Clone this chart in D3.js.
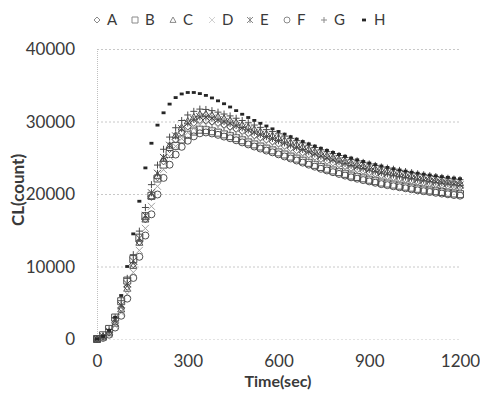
<!DOCTYPE html>
<html>
<head>
<meta charset="utf-8">
<script src="https://cdn.jsdelivr.net/npm/d3@7/dist/d3.min.js"></script>
<style>
  body { margin: 0; background: #fff; }
  text { font-family: Lato, "Open Sans", sans-serif; fill: #3a3a3a; }
</style>
</head>
<body>
<div id="chart"></div>
<script>
// Sample times (sec), one reading every 20 s
const times = [0, 20, 40, 60, 80, 100, 120, 140, 160, 180, 200, 220, 240, 260, 280, 300, 320, 340, 360, 380,
  400, 420, 440, 460, 480, 500, 520, 540, 560, 580, 600, 620, 640, 660, 680, 700, 720, 740, 760, 780,
  800, 820, 840, 860, 880, 900, 920, 940, 960, 980, 1000, 1020, 1040, 1060, 1080, 1100, 1120, 1140, 1160, 1180, 1200];

// CL counts
const serA = [0, 300, 900, 2300, 4300, 7200, 10300, 13400, 16500, 19600, 22300, 24500, 26200, 27500, 28500, 29300, 29800, 30200, 30150, 30000,
  29800, 29550, 29300, 29000, 28700, 28400, 28100, 27800, 27500, 27250, 26950, 26650, 26350, 26050, 25750, 25450, 25150, 24850, 24600, 24350,
  24100, 23850, 23600, 23400, 23200, 23000, 22800, 22600, 22450, 22300, 22150, 22000, 21850, 21700, 21580, 21460, 21340, 21230, 21120, 21020, 20920];
const serB = [0, 515, 1390, 2960, 5210, 8060, 11020, 13980, 16940, 19750, 22140, 24050, 25520, 26640, 27520, 28170, 28610, 28870, 28800, 28650,
  28460, 28220, 27980, 27700, 27410, 27120, 26840, 26550, 26260, 26020, 25740, 25450, 25160, 24880, 24590, 24300, 24020, 23730, 23490, 23250,
  23020, 22780, 22540, 22350, 22160, 21970, 21770, 21580, 21440, 21300, 21150, 21010, 20870, 20720, 20610, 20490, 20380, 20270, 20170, 20070, 19980];
const serC = [0, 263, 830, 2150, 4120, 6970, 10130, 13320, 16520, 19710, 22550, 24900, 26720, 28120, 29200, 30060, 30620, 31020, 31050, 30900,
  30690, 30440, 30180, 29870, 29560, 29250, 28940, 28630, 28330, 28070, 27760, 27450, 27140, 26830, 26520, 26210, 25900, 25600, 25340, 25080,
  24820, 24570, 24310, 24100, 23900, 23690, 23480, 23280, 23120, 22970, 22810, 22660, 22510, 22350, 22230, 22100, 21980, 21870, 21750, 21650, 21550];
const serD = [0, 205, 705, 1840, 3630, 6200, 9180, 12220, 15260, 18300, 21060, 23360, 25180, 26570, 27640, 28480, 29060, 29480, 29550, 29400,
  29200, 28960, 28710, 28420, 28130, 27830, 27540, 27240, 26950, 26710, 26410, 26120, 25820, 25530, 25240, 24940, 24650, 24350, 24110, 23860,
  23620, 23370, 23130, 22930, 22740, 22540, 22340, 22150, 22000, 21850, 21710, 21560, 21410, 21270, 21150, 21030, 20910, 20810, 20700, 20600, 20500];
const serE = [0, 365, 1060, 2540, 4660, 7620, 10770, 13920, 17060, 20170, 22860, 25040, 26720, 28010, 29010, 29790, 30290, 30650, 30600, 30450,
  30250, 29990, 29740, 29440, 29130, 28830, 28520, 28220, 27910, 27660, 27350, 27050, 26750, 26440, 26140, 25830, 25530, 25220, 24970, 24720,
  24460, 24210, 23950, 23750, 23550, 23350, 23140, 22940, 22790, 22630, 22480, 22330, 22180, 22030, 21900, 21780, 21660, 21550, 21440, 21340, 21230];
const serF = [0, 155, 595, 1580, 3210, 5570, 8420, 11340, 14270, 17200, 19930, 22220, 24040, 25440, 26510, 27350, 27950, 28370, 28490, 28350,
  28160, 27920, 27690, 27410, 27120, 26840, 26550, 26270, 25990, 25750, 25470, 25180, 24900, 24620, 24330, 24050, 23770, 23480, 23250, 23010,
  22770, 22540, 22300, 22110, 21920, 21740, 21550, 21360, 21220, 21070, 20930, 20790, 20650, 20510, 20390, 20280, 20170, 20060, 19960, 19860, 19770];
const serG = [0, 470, 1310, 2940, 5280, 8370, 11630, 14880, 18140, 21290, 23990, 26170, 27850, 29140, 30140, 30900, 31400, 31710, 31660, 31500,
  31290, 31030, 30770, 30450, 30140, 29820, 29510, 29190, 28880, 28610, 28300, 27980, 27670, 27350, 27040, 26720, 26410, 26090, 25830, 25570,
  25310, 25040, 24780, 24570, 24360, 24150, 23940, 23730, 23570, 23420, 23260, 23100, 22940, 22790, 22660, 22530, 22410, 22290, 22180, 22070, 21970];
const serH = [0, 350, 1200, 3000, 6000, 10000, 14500, 19000, 23600, 27000, 29500, 31200, 32400, 33300, 33800, 34000, 34000, 33850, 33600, 33250,
  32850, 32450, 32000, 31500, 31000, 30550, 30150, 29750, 29380, 28990, 28620, 28260, 27910, 27570, 27240, 26920, 26610, 26310, 26020, 25740,
  25470, 25210, 24960, 24720, 24490, 24270, 24060, 23860, 23670, 23490, 23320, 23160, 23010, 22870, 22740, 22620, 22510, 22400, 22300, 22200, 22110];

const seriesNames = ["A", "B", "C", "D", "E", "F", "G", "H"];
const seriesValues = [serA, serB, serC, serD, serE, serF, serG, serH];
const markerTypes = ["diamond", "square", "triangle", "x", "star", "circle", "plus", "dash"];
const markerColors = ["#505050", "#505050", "#505050", "#a0a0a0", "#4a4a4a", "#505050", "#4a4a4a", "#262626"];

const yTicks = [0, 10000, 20000, 30000, 40000];
const xTicks = [0, 300, 600, 900, 1200];

const W = 480, H = 404;
const svg = d3.select("#chart").append("svg")
  .attr("width", W)
  .attr("height", H);

const xScale = d3.scaleLinear().domain([0, 1200]).range([97, 460]);
const yScale = d3.scaleLinear().domain([0, 40000]).range([339, 49]);

// marker shapes centred on 0,0
function markerPath(type, s) {
  switch (type) {
    case "diamond": return `M0,${-s}L${s},0L0,${s}L${-s},0Z`;
    case "square": return `M${-s},${-s}H${s}V${s}H${-s}Z`;
    case "triangle": return `M0,${-s}L${s},${s * 0.8}L${-s},${s * 0.8}Z`;
    case "x": return `M${-s},${-s}L${s},${s}M${-s},${s}L${s},${-s}`;
    case "star": return `M${-s},${-s}L${s},${s}M${-s},${s}L${s},${-s}M0,${-s}V${s}`;
    case "circle": return `M${s},0A${s},${s} 0 1,1 ${-s},0A${s},${s} 0 1,1 ${s},0`;
    case "plus": return `M${-s},0H${s}M0,${-s}V${s}`;
    case "dash": return `M-2,-1.4H2V1.4H-2Z`;
  }
}

// gridlines
svg.append("g")
  .selectAll("line")
  .data(yTicks)
  .join("line")
  .attr("x1", xScale(0))
  .attr("x2", xScale(1200))
  .attr("y1", d => yScale(d) + 0.5)
  .attr("y2", d => yScale(d) + 0.5)
  .attr("stroke", d => d === 0 ? "#e2e2e2" : "#c8c8c8")
  .attr("stroke-width", 1)
  .attr("stroke-dasharray", "2,2");

// left axis line (dotted)
svg.append("line")
  .attr("x1", xScale(0) + 0.5)
  .attr("x2", xScale(0) + 0.5)
  .attr("y1", yScale(40000))
  .attr("y2", yScale(0))
  .attr("stroke", "#c0c0c0")
  .attr("stroke-dasharray", "1,1");

// axes labels via d3 axes (no domain / tick lines)
const yAxis = svg.append("g")
  .attr("transform", `translate(${xScale(0) - 19},0)`)
  .call(d3.axisLeft(yScale).tickValues(yTicks).tickSize(0).tickFormat(d3.format("d")));
yAxis.select(".domain").remove();
yAxis.selectAll("text")
  .style("font-family", "Lato, sans-serif")
  .style("font-size", "17px")
  .attr("fill", "#3a3a3a")
  .attr("dy", "0.35em");

const xAxis = svg.append("g")
  .attr("transform", `translate(0,${yScale(0) + 13})`)
  .call(d3.axisBottom(xScale).tickValues(xTicks).tickSize(0).tickFormat(d3.format("d")));
xAxis.select(".domain").remove();
xAxis.selectAll("text")
  .style("font-family", "Lato, sans-serif")
  .style("font-size", "17px")
  .attr("fill", "#3a3a3a");

// axis titles
svg.append("text")
  .attr("x", 278)
  .attr("y", 387)
  .attr("text-anchor", "middle")
  .style("font-size", "16px")
  .style("font-weight", "bold")
  .text("Time(sec)");

svg.append("text")
  .attr("transform", "translate(24,190) rotate(-90)")
  .attr("text-anchor", "middle")
  .style("font-size", "17px")
  .style("font-weight", "bold")
  .text("CL(count)");

// series markers
seriesValues.forEach((vals, i) => {
  const type = markerTypes[i];
  const g = svg.append("g").attr("class", "series-" + seriesNames[i]);
  g.selectAll("path")
    .data(vals.map((v, j) => ({ t: times[j], v: v })))
    .join("path")
    .attr("transform", d => `translate(${xScale(d.t)},${yScale(d.v)})`)
    .attr("d", markerPath(type, 3.5))
    .attr("fill", type === "dash" ? markerColors[i] : "none")
    .attr("stroke", type === "dash" ? "none" : markerColors[i])
    .attr("stroke-width", 1);
});

// legend
const legendX = [97, 135, 173, 212, 250, 287, 324, 364];
const legend = svg.append("g");
seriesNames.forEach((name, i) => {
  const type = markerTypes[i];
  legend.append("path")
    .attr("transform", `translate(${legendX[i]},20)`)
    .attr("d", markerPath(type, 3))
    .attr("fill", type === "dash" ? markerColors[i] : "none")
    .attr("stroke", type === "dash" ? "none" : (i === 3 ? "#d0d0d0" : "#8a8a8a"))
    .attr("stroke-width", 1);
  legend.append("text")
    .attr("x", legendX[i] + 10)
    .attr("y", 25)
    .style("font-size", "15px")
    .text(name);
});
</script>
</body>
</html>
